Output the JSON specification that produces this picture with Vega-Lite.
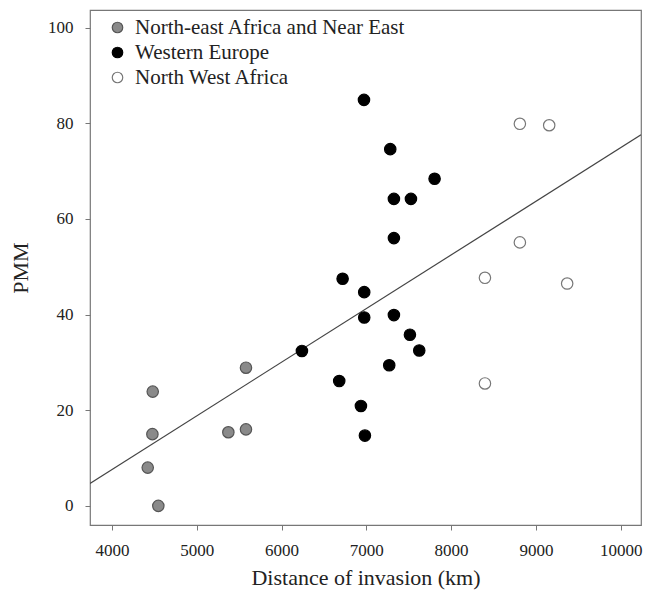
{
  "$schema": "https://vega.github.io/schema/vega-lite/v6.json",
  "width": 551,
  "height": 515,
  "autosize": {"type": "none"},
  "padding": {"left": 90, "top": 10, "right": 13, "bottom": 67},
  "background": "white",
  "config": {
    "view": {"stroke": "#777", "strokeWidth": 1.2},
    "font": "Liberation Serif",
    "axis": {"grid": false, "domain": false, "tickColor": "#777", "tickSize": 5, "labelFont": "Liberation Serif", "titleFont": "Liberation Serif", "labelColor": "#222", "titleColor": "#222", "labelFontSize": 17, "titleFontSize": 22, "titleFontWeight": "normal"}
  },
  "datasets": {
    "pts": [
      {"d": 4480, "pmm": 23.9, "region": "North-east Africa and Near East"},
      {"d": 4476, "pmm": 15.0, "region": "North-east Africa and Near East"},
      {"d": 4421, "pmm": 8.0, "region": "North-east Africa and Near East"},
      {"d": 4546, "pmm": 0.0, "region": "North-east Africa and Near East"},
      {"d": 5372, "pmm": 15.4, "region": "North-east Africa and Near East"},
      {"d": 5580, "pmm": 16.0, "region": "North-east Africa and Near East"},
      {"d": 5580, "pmm": 28.9, "region": "North-east Africa and Near East"},
      {"d": 6240, "pmm": 32.4, "region": "Western Europe"},
      {"d": 6972, "pmm": 84.9, "region": "Western Europe"},
      {"d": 7282, "pmm": 74.6, "region": "Western Europe"},
      {"d": 7805, "pmm": 68.4, "region": "Western Europe"},
      {"d": 7325, "pmm": 64.2, "region": "Western Europe"},
      {"d": 7526, "pmm": 64.2, "region": "Western Europe"},
      {"d": 7325, "pmm": 56.0, "region": "Western Europe"},
      {"d": 6720, "pmm": 47.5, "region": "Western Europe"},
      {"d": 6975, "pmm": 44.7, "region": "Western Europe"},
      {"d": 6975, "pmm": 39.4, "region": "Western Europe"},
      {"d": 7325, "pmm": 39.9, "region": "Western Europe"},
      {"d": 7514, "pmm": 35.8, "region": "Western Europe"},
      {"d": 7624, "pmm": 32.5, "region": "Western Europe"},
      {"d": 7270, "pmm": 29.4, "region": "Western Europe"},
      {"d": 6680, "pmm": 26.1, "region": "Western Europe"},
      {"d": 6936, "pmm": 20.9, "region": "Western Europe"},
      {"d": 6983, "pmm": 14.7, "region": "Western Europe"},
      {"d": 8811, "pmm": 79.9, "region": "North West Africa"},
      {"d": 9157, "pmm": 79.6, "region": "North West Africa"},
      {"d": 8811, "pmm": 55.1, "region": "North West Africa"},
      {"d": 8399, "pmm": 47.7, "region": "North West Africa"},
      {"d": 9369, "pmm": 46.5, "region": "North West Africa"},
      {"d": 8399, "pmm": 25.6, "region": "North West Africa"}
    ],
    "fit": [
      {"d": 3740, "pmm": 4.7},
      {"d": 10240, "pmm": 77.6}
    ]
  },
  "layer": [
    {
      "data": {"name": "fit"},
      "mark": {"type": "line", "color": "#444", "strokeWidth": 1.2, "clip": true},
      "encoding": {
        "x": {"field": "d", "type": "quantitative", "scale": {"domain": [3740, 10240], "nice": false, "zero": false}},
        "y": {"field": "pmm", "type": "quantitative", "scale": {"domain": [-4, 103.7], "nice": false}}
      }
    },
    {
      "data": {"name": "pts"},
      "mark": {"type": "point", "filled": false, "strokeWidth": 1.2, "opacity": 1},
      "encoding": {
        "x": {"field": "d", "type": "quantitative", "title": "Distance of invasion (km)", "scale": {"domain": [3740, 10240], "nice": false, "zero": false}, "axis": {"values": [4000, 5000, 6000, 7000, 8000, 9000, 10000], "format": "d", "labelPadding": 12, "titlePadding": 9}},
        "y": {"field": "pmm", "type": "quantitative", "title": "PMM", "scale": {"domain": [-4, 103.7], "nice": false}, "axis": {"values": [0, 20, 40, 60, 80, 100], "labelPadding": 12, "titlePadding": 15}},
        "fill": {"field": "region", "type": "nominal", "scale": {"domain": ["North-east Africa and Near East", "Western Europe", "North West Africa"], "range": ["#8a8a8a", "#000000", "#ffffff"]},
          "legend": {"title": null, "orient": "none", "legendX": 17, "legendY": 7, "padding": 0, "labelFont": "Liberation Serif", "labelFontSize": 21, "labelColor": "#222", "labelOffset": 7, "rowPadding": 3, "symbolSize": 110, "symbolType": "circle", "symbolStrokeWidth": 1.2, "labelLimit": 400}},
        "stroke": {"field": "region", "type": "nominal", "scale": {"domain": ["North-east Africa and Near East", "Western Europe", "North West Africa"], "range": ["#555555", "#000000", "#777777"]}, "legend": null},
        "size": {"value": 130}
      }
    }
  ]
}
